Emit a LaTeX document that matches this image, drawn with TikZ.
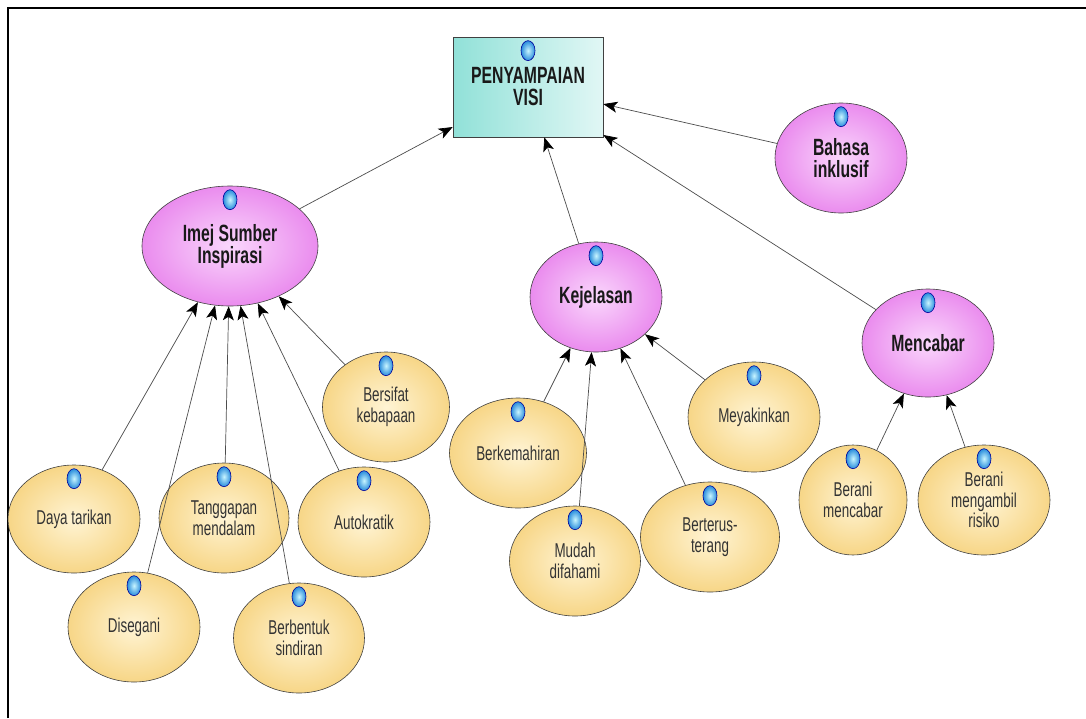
\documentclass[tikz,border=0pt]{standalone}
\usepackage{fontspec}
\newfontfamily\diafont[FakeStretch=0.67]{Liberation Sans}
\usetikzlibrary{shapes.geometric,arrows.meta}

\definecolor{pinkdark}{RGB}{234,140,238}
\definecolor{pinklight}{RGB}{250,215,252}
\definecolor{yeldark}{RGB}{247,214,135}
\definecolor{yellight}{RGB}{255,244,212}
\definecolor{tealdark}{RGB}{145,225,216}
\definecolor{teallight}{RGB}{225,247,245}
\definecolor{icondark}{RGB}{40,140,220}
\definecolor{iconlight}{RGB}{200,245,255}

\tikzset{
  topbox/.style={rectangle, draw=black!75, line width=0.7pt, inner sep=0pt,
    minimum width=150pt, minimum height=100pt, align=center,
    left color=tealdark, right color=teallight,
    font=\diafont\bfseries\fontsize{23.5}{22}\selectfont, text=black!90},
  mainell/.style={ellipse, draw=black!75, line width=0.6pt, inner sep=0pt,
    minimum width=132pt, minimum height=110pt, align=center,
    inner color=pinklight, outer color=pinkdark,
    font=\diafont\bfseries\fontsize{23.5}{22}\selectfont, text=black!90},
  subell/.style={ellipse, draw=black!75, line width=0.6pt, inner sep=0pt,
    minimum width=132pt, minimum height=110pt, align=center,
    inner color=yellight, outer color=yeldark,
    font=\diafont\fontsize{20}{20.5}\selectfont, text=black!80},
  icon/.style={ellipse, inner sep=0pt, minimum width=14pt, minimum height=20pt,
    inner color=iconlight, outer color=icondark, draw=blue!60!black, line width=0.6pt},
  link/.style={draw=black!70, line width=0.7pt,
    -{Stealth[length=14pt,width=11pt,inset=3.5pt,color=black]}}
}

\begin{document}
\begin{tikzpicture}[x=1pt, y=-1pt]
    \useasboundingbox (0,0) rectangle (1086,718);
    \draw[line width=1.2pt] (8,718) -- (8,8) -- (1086,8);

    % top and second level
    \node[topbox] (PV) at (528,87) {PENYAMPAIAN\\VISI};
    \node[mainell, minimum width=176pt, minimum height=120pt] (IS) at (230,246) {Imej Sumber\\Inspirasi};
    \node[mainell] (KJ) at (596,297) {Kejelasan};
    \node[mainell] (BI) at (841,158) {Bahasa\\inklusif};
    \node[mainell, minimum height=108pt] (MC) at (928,343) {Mencabar};

    % under Imej Sumber Inspirasi
    \node[subell, minimum height=108pt] (DT) at (74,519) {Daya tarikan};
    \node[subell, minimum width=130pt] (TM) at (224,518) {Tanggapan\\mendalam};
    \node[subell] (AK) at (364,522) {Autokratik};
    \node[subell, minimum width=127pt] (BS) at (386,407) {Bersifat\\kebapaan};
    \node[subell] (DS) at (134,627) {Disegani};
    \node[subell, minimum width=131pt] (BB) at (299,638) {Berbentuk\\sindiran};

    % under Kejelasan
    \node[subell, minimum width=137pt] (BK) at (518,453) {Berkemahiran};
    \node[subell, minimum width=131pt] (MD) at (575,561) {Mudah\\difahami};
    \node[subell, minimum width=139pt] (BT) at (710,537) {Berterus-\\terang};
    \node[subell] (MY) at (754,417) {Meyakinkan};

    % under Mencabar
    \node[subell, minimum width=108pt] (BC) at (853,500) {Berani\\mencabar};
    \node[subell] (BR) at (984,500) {Berani\\mengambil\\risiko};

    \draw[link] (IS) -- (PV);
    \draw[link] (KJ) -- (PV);
    \draw[link] (BI) -- (PV);
    \draw[link] (MC) -- (PV);

    \draw[link] (DT) -- (IS);
    \draw[link] (DS) -- (IS);
    \draw[link] (TM) -- (IS);
    \draw[link] (BB) -- (IS);
    \draw[link] (AK) -- (IS);
    \draw[link] (BS) -- (IS);

    \draw[link] (BK) -- (KJ);
    \draw[link] (MD) -- (KJ);
    \draw[link] (BT) -- (KJ);
    \draw[link] (MY) -- (KJ);

    \draw[link] (BC) -- (MC);
    \draw[link] (BR) -- (MC);

    % blue markers
    \foreach \n in {PV,IS,KJ,BI,MC,DT,TM,AK,BS,DS,BB,BK,MD,BT,MY,BC,BR}
        \node[icon] (ic\n) at ([yshift=-14pt]\n.north) {};
\end{tikzpicture}
\end{document}
